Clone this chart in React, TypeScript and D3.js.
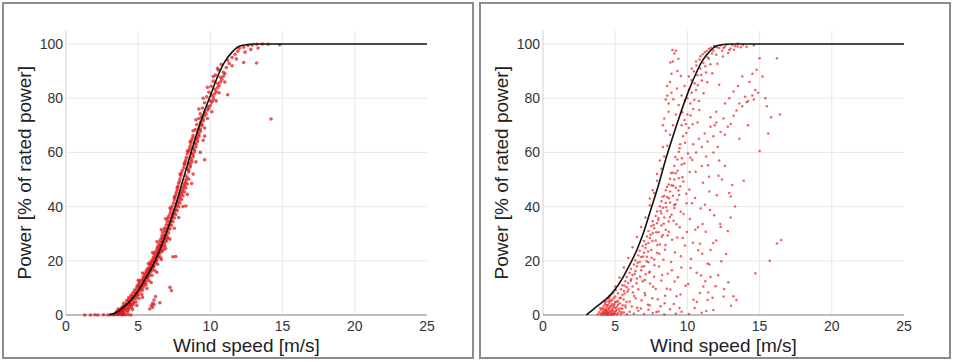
import React from 'react';
import * as d3 from 'd3';

// power curve (manufacturer), same shape in both panels
const curveSpeed = [3, 3.5, 4, 4.5, 5, 5.5, 6, 6.5, 7, 7.5, 8, 8.5, 9, 9.5, 10, 10.5, 11, 11.5, 12, 12.5, 13, 25];
const curvePowerLeft = [0, 1, 3, 5.5, 9, 13.5, 18, 24, 31, 39, 48, 57, 66, 74, 81, 88, 93.5, 97, 99.2, 99.7, 100, 100];
const curvePowerRight = [0, 2.2, 4.3, 6.5, 9.5, 13.5, 18.5, 24, 31, 39.5, 48, 57.5, 66, 74, 81.5, 88, 93.5, 97, 99.3, 99.8, 100, 100];

const xTicks = [0, 5, 10, 15, 20, 25];
const yTicks = [0, 20, 40, 60, 80, 100];

// left panel: measured points [wind speed, power %]
const leftZero: [number, number][] = [[1.3,0],[1.7,0],[2.0,0.1],[2.2,0],[2.6,0.1],[2.9,0],[3.1,0.2],[3.3,0],[3.4,0.3],[3.6,0.1],[3.7,0.5],[3.8,0.2],[3.9,0],[4.0,0.4],[4.1,0.1],[4.3,0.2],[4.5,0]];
const leftBand: [number, number][] = [
  [3.5,1.2],[3.7,1.6],[3.9,1.1],[4.0,2.0],[4.1,1.5],[4.2,2.6],[3.8,2.4],[4.3,1.8],[4.4,3.1],[4.0,3.3],
  [4.2,4.0],[4.4,4.5],[4.5,3.8],[4.6,5.2],[4.3,5.6],[4.7,4.6],[4.5,6.3],[4.8,5.9],[4.9,6.8],[4.6,7.2],
  [4.8,8.0],[5.0,7.4],[5.1,8.6],[4.9,9.5],[5.2,9.9],[5.0,10.6],[5.3,9.1],[5.4,11.2],[5.1,11.8],[5.3,12.5],
  [5.5,12.0],[5.4,13.6],[5.6,13.0],[5.5,14.6],[5.7,14.2],[5.6,15.5],[5.8,15.0],[5.7,16.4],[5.9,16.1],[5.8,17.3],
  [6.0,17.0],[5.9,18.5],[6.1,18.1],[6.0,19.6],[6.2,19.2],[6.1,20.7],[6.3,20.3],[6.2,21.8],[6.4,21.4],[6.3,22.9],
  [6.5,23.0],[6.4,24.3],[6.6,24.0],[6.5,25.5],[6.7,25.2],[6.6,26.8],[6.8,26.5],[6.7,28.0],[6.9,27.8],[6.8,29.3],[7.0,29.0],[6.9,30.6],[7.1,30.3],
  [7.0,31.9],[7.2,31.7],[7.1,33.2],[7.3,33.0],[7.2,34.5],[7.4,34.4],[7.3,35.9],[7.5,35.8],[7.4,37.3],[7.6,37.1],[7.5,38.6],[7.7,38.5],[7.6,40.0],[7.8,39.9],
  [7.7,41.4],[7.9,41.3],[7.8,42.8],[8.0,42.6],[7.9,44.2],[8.1,44.0],[8.0,45.6],[8.2,45.4],[8.1,47.0],[8.3,46.9],[8.2,48.4],[8.4,48.3],[8.3,49.8],[8.5,50.1],
  [8.3,51.5],[8.5,52.8],[8.4,54.0],[8.6,54.6],[8.5,56.0],[8.7,56.4],[8.6,58.0],[8.8,58.3],[8.7,59.7],[8.9,60.2],
  [8.8,61.6],[9.0,62.1],[8.9,63.5],[9.1,64.0],[9.0,65.4],[9.2,65.9],[9.1,67.3],[9.3,67.7],[9.2,69.0],[9.4,69.8],
  [9.3,71.0],[9.5,71.6],[9.4,73.0],[9.6,73.5],[9.6,75.0],[9.8,75.6],[9.8,77.0],[10.0,77.3],[10.0,79.0],[10.2,79.4],
  [10.1,81.2],[10.3,81.6],[10.3,83.3],[10.5,83.9],[10.5,85.5],[10.7,86.0],[10.7,87.7],[10.9,88.1],[10.9,89.6],
  [11.1,91.3],[11.3,92.8],[11.2,94.0],[11.5,95.0],[11.7,96.2],[11.9,97.3],[12.0,98.4],[12.3,98.8],[12.6,99.5],[12.9,99.6],[13.2,99.9],[13.6,100],[14.0,99.9],[14.8,99.7]
];
const leftCore: [number, number][] = [
  [3.6,0.8],[3.9,1.4],[4.1,2.8],[4.3,3.6],[4.4,5.0],[4.6,6.0],[4.8,7.1],[4.9,8.3],[5.1,9.4],[5.2,10.8],[5.3,11.4],[5.4,12.9],[5.6,14.0],[5.7,15.2],[5.8,16.3],
  [5.9,17.6],[6.0,18.8],[6.1,19.8],[6.2,20.9],[6.3,21.9],[6.4,23.2],[6.5,24.6],[6.6,25.7],[6.7,27.1],[6.8,28.3],[6.9,29.6],[7.0,30.9],[7.1,32.1],[7.2,33.6],
  [7.3,34.9],[7.4,36.4],[7.5,37.7],[7.6,39.0],[7.7,40.6],[7.8,41.9],[7.9,43.4],[8.0,44.8],[8.1,46.2],[8.2,47.6],[8.3,49.0],[8.4,50.6],[8.5,53.5],[8.6,55.3],
  [8.7,57.2],[8.8,59.1],[8.9,61.0],[9.0,63.0],[9.1,64.8],[9.2,66.6],[9.3,68.4],[9.4,70.4],[9.5,72.3],[9.7,74.2],[9.9,76.3],[10.1,78.5],[10.2,80.4],[10.4,82.5],
  [10.6,84.7],[10.8,86.9],[11.0,89.0]
];
const leftInner: [number, number][] = [
  [3.6,2.2],[4.0,4.3],[4.35,6.4],[4.65,8.3],[4.9,10.4],[5.1,12.5],[5.35,14.2],[5.55,16.3],[5.8,18.4],[5.95,20.3],[6.1,22.5],[6.3,24.4],[6.45,26.2],[6.6,28.3],
  [6.7,30.4],[6.85,32.2],[7.0,34.5],[7.1,36.3],[7.25,38.4],[7.35,40.2],[7.5,42.5],[7.6,44.4],[7.7,46.2],[7.8,48.5],[7.9,50.3],[8.0,52.4],[8.15,54.3],[8.25,56.5],
  [8.35,58.2],[8.5,60.4],[8.6,62.3],[8.7,64.5],[8.8,66.2],[8.95,68.4],[9.05,70.3],[9.2,72.5],[9.3,74.2],[9.45,76.4],[9.6,78.3],[9.75,80.5],[9.9,82.2],[10.05,84.4],
  [10.2,86.3],[10.35,88.5],[10.55,90.4],[10.75,92.5],
  [3.5,1.0],[3.9,3.0],[4.2,5.2],[4.5,7.4],[4.75,9.2],[5.0,11.3],[5.25,13.1],[5.45,15.3],[5.65,17.2],[5.85,19.5],[6.05,21.3],[6.2,23.4],[6.35,25.3],[6.5,27.4],
  [6.65,29.3],[6.8,31.4],[6.95,33.3],[7.05,35.5],[7.2,37.3],[7.3,39.4],[7.45,41.3],[7.55,43.5],[7.65,45.3],[7.75,47.4],[7.85,49.3],[7.95,51.5],[8.05,53.3],
  [8.2,55.4],[8.3,57.3],[8.4,59.5],[8.55,61.3],[8.65,63.4],[8.75,65.3]
];
const leftLow: [number, number][] = [
  [3.45,0.6],[3.55,0.3],[3.75,0.9],[3.85,1.9],[3.95,0.6],[4.05,2.4],[4.15,3.6],[4.25,1.2],[4.35,2.3],[4.45,4.1],[4.55,2.8],[4.65,3.9],[4.75,6.6],[4.85,4.8],
  [4.95,7.7],[5.05,6.1],[5.15,10.2],[5.25,7.6],[5.35,10.3],[5.45,12.4],[5.55,11.1],[5.65,13.8],[5.75,12.6],[5.85,16.9],[5.95,14.6],[6.05,17.8],[6.15,16.4],
  [6.25,19.9],[6.35,18.7],[6.45,22.1],[6.55,21.2],[6.65,23.4],[6.75,24.1],[6.85,25.6],[6.95,27.2],[7.05,28.3]
];
const leftFringe: [number, number][] = [
  [4.6,2.0],[4.9,3.5],[5.3,6.5],[5.0,12.8],[5.6,9.8],[5.9,12.0],[5.3,15.5],[6.3,15.8],[5.7,19.0],[6.6,20.5],[6.0,23.0],[6.9,24.5],[6.3,27.0],[7.2,28.0],
  [6.6,31.5],[7.5,32.0],[6.9,35.5],[7.8,36.0],[7.2,39.5],[8.1,40.0],[7.5,43.5],[8.4,44.5],[7.7,47.0],[8.7,48.5],[7.9,52.0],[8.8,52.0],[8.2,56.0],[9.0,56.5],
  [8.4,60.5],[9.3,60.0],[8.6,64.0],[9.5,64.5],[8.8,68.0],[9.6,69.0],[9.0,72.0],[9.8,72.5],[9.2,76.0],[10.1,75.0],[9.5,80.0],[10.4,79.0],[9.8,84.0],[10.6,82.0],
  [10.2,88.0],[11.0,86.0],[10.5,91.0],[11.5,92.0],[11.8,94.5],[12.4,97.0],[12.8,98.0],[13.3,98.5]
];
const leftOutliers: [number, number][] = [
  [5.8,2.2],[5.9,3.4],[6.0,4.3],[6.1,5.5],[6.2,6.8],[6.0,2.8],[6.1,3.9],[6.5,4.5],[7.2,10.2],[7.3,9.0],[7.4,21.5],[7.6,21.6],
  [8.3,40.2],[9.6,57.3],[9.6,66.0],[11.2,81.3],[14.2,72.3],[13.2,93.0],[12.3,93.2]
];

// right panel: measured points [wind speed, power %]
const rightCluster: [number, number][] = [
  [3.8,0.3],[3.9,1.0],[4.0,0.2],[4.0,1.8],[4.1,0.6],[4.1,2.5],[4.2,0.1],[4.2,1.4],[4.2,3.2],[4.3,0.8],[4.3,2.1],[4.3,4.0],[4.4,0.3],[4.4,1.2],[4.4,2.9],[4.4,5.0],
  [4.5,0.5],[4.5,1.8],[4.5,3.6],[4.5,0.1],[4.6,0.9],[4.6,2.4],[4.6,4.4],[4.6,6.0],[4.7,0.2],[4.7,1.5],[4.7,3.1],[4.7,5.3],[4.8,0.7],[4.8,2.2],[4.8,4.0],
  [4.9,0.3],[4.9,1.3],[4.9,3.5],[4.9,6.3],[5.0,0.8],[5.0,2.7],[5.0,4.8],[5.1,0.2],[5.1,1.9],[5.2,3.8],[5.2,0.6],[5.3,1.4],[5.4,0.4],[5.5,2.3],[5.6,0.9],
  [5.8,0.3],[6.0,1.2],[6.3,0.5],[6.6,1.6],[7.0,0.4],[7.3,1.9],[7.6,0.7],[8.0,1.3],[8.4,0.2],[8.8,2.1],[9.2,0.5],[9.6,1.2],[10.1,0.4],[10.5,2.6],[11.0,0.8],[11.3,1.5],
  [4.05,0.4],[4.15,1.1],[4.25,0.7],[4.35,1.9],[4.45,0.9],[4.55,2.6],[4.62,1.2],[4.68,3.4],[4.75,0.5],[4.82,1.7],[4.88,2.9],[4.95,4.1],[5.05,1.5],[5.12,3.0],
  [5.18,5.2],[5.25,2.2],[5.32,4.3],[5.38,6.4],[5.45,1.0],[5.52,3.6],[5.58,5.7],[5.65,7.9],[5.72,2.8],[5.78,4.9],[5.85,8.6],[4.32,0.2],[4.52,0.3],[4.72,0.1],
  [4.92,0.4],[4.42,3.7],[4.58,5.1],[4.38,1.4],[4.18,2.1],[3.95,2.6],[4.28,4.7],[4.48,6.2],[4.66,7.3],[4.85,8.0],[5.02,9.1]
];
const rightBand: [number, number][] = [
  [4.8,5.5],[5.0,6.8],[5.1,4.8],[5.2,8.0],[5.3,6.2],[5.4,9.5],[5.5,7.4],[5.5,11.0],[5.6,8.9],[5.7,12.5],[5.8,10.2],[5.8,14.0],[5.9,11.8],[6.0,15.6],[6.1,13.2],
  [6.1,17.0],[6.2,14.8],[6.3,18.6],[6.4,16.2],[6.4,20.2],[6.5,18.0],[6.6,22.0],[6.7,19.6],[6.7,23.7],[6.8,21.4],[6.9,25.5],[7.0,23.0],[7.0,27.3],[7.1,24.8],
  [7.2,29.0],[7.3,26.6],[7.3,31.0],[7.4,28.4],[7.5,32.8],[7.6,30.2],[7.6,34.6],[7.7,32.0],[7.8,36.5],[7.9,33.9],[7.9,38.2],[8.0,35.8],[8.1,40.1],[8.2,37.5],
  [8.2,42.0],[8.3,39.6],[8.4,44.0],[8.5,41.3],[8.5,46.0],[8.6,43.5],[8.7,48.2],[8.8,45.6],[8.8,50.3],[8.9,47.9],[9.0,52.5],[9.1,50.0],[9.1,55.0],[9.2,52.3],
  [9.3,57.4],[9.4,60.2],[9.5,63.0],
  [7.0,18.0],[7.2,21.5],[7.4,16.0],[7.5,24.0],[7.7,20.5],[7.8,27.5],[7.9,23.0],[8.0,30.5],[8.1,26.0],[8.2,33.0],[8.3,29.5],[8.4,36.0],[8.5,31.5],[8.6,38.5],
  [8.7,34.5],[8.8,41.5],[8.9,37.0],[9.0,44.0],[9.1,39.5],[9.2,47.0],[9.3,42.5],[9.4,50.5],[9.5,47.5],[9.6,55.5],[6.6,9.5],[6.9,12.5],[7.1,15.0],[6.3,7.0],
  [6.0,5.0],[5.7,3.5],[6.2,10.5],[6.5,13.5],[6.8,16.5],[7.3,19.5],[5.4,2.5],
  [5.65,10.8],[5.92,9.4],[6.08,12.6],[6.22,8.3],[6.35,15.1],[6.48,11.7],[6.55,19.3],[6.72,14.2],[6.85,17.8],[6.93,21.6],[7.05,12.9],[7.12,26.1],[7.18,19.8],
  [7.28,23.4],[7.36,15.7],[7.44,29.6],[7.52,21.1],[7.58,27.3],[7.66,33.2],[7.72,18.4],[7.84,30.5],[7.92,25.8],[7.98,35.1],[8.06,22.6],[8.14,38.4],[8.22,28.9],
  [8.28,43.6],[8.36,33.7],[8.45,24.1],[8.52,39.8],[8.58,47.2],[8.64,29.3],[8.72,43.1],[8.78,36.2],[8.86,52.4],[8.94,27.8],[9.02,47.7],[9.08,40.6],[9.16,58.3],
  [9.24,33.5],[9.32,53.2],[9.38,45.9],[9.46,61.5],[9.54,38.1],[9.62,57.8],[9.72,49.3],[9.84,63.6],[9.92,44.7],[10.04,59.6],[10.16,52.8]
];
const rightOnCurve: [number, number][] = [
  [4.6,6.8],[5.0,10.5],[5.3,13.8],[5.6,17.5],[5.9,21.0],[6.2,25.0],[6.5,28.8],[6.8,32.5],[7.1,36.0],[7.4,40.5],[7.7,45.0],[7.9,49.5],[8.2,54.0],[8.4,58.5],
  [8.6,62.5],[8.8,66.5],[9.0,70.0],[9.2,74.0],[9.4,77.5],[9.6,81.0],[9.8,84.5],[10.1,88.0],[10.3,91.0],[10.6,93.5],[10.9,95.5],[11.2,97.0],[11.5,98.2],
  [11.9,99.0],[12.3,99.5],[12.7,99.8],[13.1,99.6],[13.5,100.2],[12.5,98.5],[13.0,98.3],[7.6,46.0],[7.9,52.0],[8.1,57.0],[8.3,62.0],[7.4,43.0],
  [9.7,66.0],[9.9,70.5],[10.0,74.0],[10.2,78.0],[10.3,82.0],[10.5,85.5],[10.7,88.5],[10.9,91.0],[11.1,93.0],[11.4,95.0],[11.7,96.5],[10.0,80.0],[10.4,76.0],
  [10.6,83.0],[10.8,79.0],[11.0,86.5],[11.3,89.5],[9.8,72.0],[10.1,69.0],[9.6,70.0],[11.6,92.5],[12.0,96.0],[12.4,97.5],
  [8.4,72.5],[8.5,79.5],[8.6,81.0],[8.7,78.0],[8.6,84.5],[8.8,86.0],[8.9,89.0],[9.0,93.5],[9.1,96.5],[9.2,97.5],[8.9,82.0],[8.5,68.0],[8.3,70.0],[9.3,90.0],[8.7,75.0],
  [9.65,74.8],[9.82,79.2],[10.12,83.4],[10.28,86.7],[10.45,89.9],[10.62,92.1],[10.84,94.3],[11.06,96.2],[11.34,97.4],[11.62,98.6],[10.22,73.6],[10.48,79.4],
  [10.72,84.8],[10.96,88.6],[11.24,91.8],[11.48,94.6],[9.92,67.2],[10.36,70.4],[10.82,75.6],[11.12,81.8],[11.38,85.9],[11.72,89.2],[12.08,92.7],[12.46,95.4],
  [9.28,83.6],[9.02,79.6],[8.82,93.2],[8.96,97.8],[9.38,94.6],[9.55,88.2],[12.82,96.7],[13.22,97.9],[13.48,99.1],[13.85,99.6],[12.05,98.8],[11.85,99.4]
];
const rightScatter: [number, number][] = [
  [6.52,2.7],[6.83,5.4],[7.04,8.1],[7.26,3.8],[7.41,11.6],[7.57,6.2],[7.69,14.1],[7.81,9.6],[8.03,17.9],[8.14,3.2],[8.19,12.7],[8.34,20.4],[8.46,7.1],[8.48,25.8],
  [8.63,15.2],[8.71,30.7],[8.82,9.4],[8.87,19.6],[9.04,34.8],[9.06,4.1],[9.13,23.1],[9.18,40.9],[9.34,13.9],[9.29,28.6],[9.43,44.3],[9.52,7.6],[9.47,32.4],
  [9.66,50.8],[9.58,17.5],[9.74,37.3],[9.83,25.6],[9.78,55.9],[9.94,41.2],[10.06,11.4],[9.97,30.6],[10.13,46.3],[10.24,20.7],[10.17,35.4],[10.34,57.2],[10.42,5.6],
  [10.38,26.7],[10.53,43.2],[10.64,15.6],[10.57,52.9],[10.73,32.4],[10.86,8.1],[10.92,39.3],[11.03,22.6],[11.08,48.8],[11.24,12.5],[11.27,30.7],[11.42,55.3],
  [11.53,18.6],[11.57,38.7],[11.74,6.4],[11.79,26.6],[12.04,44.2],[12.13,14.7],[12.27,33.6],[12.54,9.6],[12.68,22.5],[13.02,3.4],[13.18,6.9],[12.83,12.1],
  [6.15,3.1],[6.42,6.2],[6.78,2.4],[7.08,7.3],[7.38,3.6],[7.62,10.4],[7.95,5.8],[8.25,14.8],[8.58,9.7],[8.92,16.5],[9.25,6.9],[9.55,21.7],[9.88,10.8],[10.22,17.3],
  [10.55,31.5],[10.88,26.3],[11.22,40.7],[11.52,45.6],[11.85,36.8],[12.15,51.4],[9.68,28.4],[10.32,41.2],[10.75,23.9],[11.05,33.6],[9.12,12.4],[8.42,4.3],
  [7.85,1.1],[9.45,2.6],[10.65,4.8],[11.45,8.3],[10.95,14.6],[12.35,19.8],[11.95,10.6]
];
const rightSecondBand: [number, number][] = [
  [10.2,58.0],[10.4,63.0],[10.6,60.0],[10.8,65.0],[11.0,62.0],[11.2,67.0],[11.4,64.0],[11.6,69.5],[11.8,66.0],[12.0,71.0],[12.1,62.0],[12.3,67.5],[12.5,72.5],
  [12.6,66.5],[12.8,69.5],[13.0,70.5],[13.2,73.5],[13.4,75.5],[13.6,78.0],[13.8,77.0],[14.0,80.5],[14.2,79.0],[14.5,81.0],[14.7,83.0],[14.6,79.5],[14.9,82.0],
  [11.6,73.0],[11.9,70.0],[10.7,71.0],[11.0,55.0],[11.3,58.5],[11.5,51.0],[11.8,60.0],[12.2,57.0],[12.4,50.0],[12.6,55.0],[12.9,45.0],[13.1,48.0],[13.0,36.0],
  [13.3,40.0],[12.8,31.0],[12.3,32.5],[12.0,27.5],[11.6,24.0],[11.4,19.0],[11.6,14.0],[11.1,10.5],[11.4,5.5],[11.8,1.8],[12.5,6.8],[13.4,5.5]
];
const rightSparse: [number, number][] = [
  [13.5,84.5],[14.3,86.0],[14.5,89.0],[15.0,94.7],[16.2,94.7],[15.5,77.0],[16.4,74.0],[15.6,67.0],[15.0,60.5],[13.9,49.5],[13.0,43.7],[16.2,26.4],[16.5,27.7],
  [15.7,20.0],[14.7,15.4],[15.8,73.0],[14.1,78.5],[13.2,82.5],[12.9,80.0],[12.6,78.0],[15.2,88.0],[14.8,90.5],[13.8,88.0],[12.2,85.0],[12.0,75.0],[13.6,65.0],
  [14.2,70.0],[15.4,80.0],[12.2,98.5],[12.6,99.0],[12.9,97.8],[13.3,99.2],[13.7,98.8],[14.1,99.0],[14.6,99.5],[11.8,97.5]
];

const leftPoints = [...leftZero, ...leftFringe, ...leftBand, ...leftCore, ...leftInner, ...leftLow, ...leftOutliers];
const rightPoints = [...rightCluster, ...rightScatter, ...rightSecondBand, ...rightSparse, ...rightBand, ...rightOnCurve];

const FONT = '"Liberation Sans", Arial, sans-serif';

type PanelProps = {
  left: number;
  points: [number, number][];
  curve: number[];
  dense: boolean;
};

const Panel = ({ left, points, curve, dense }: PanelProps) => {
  const x = d3.scaleLinear().domain([0, 25]).range([left + 66, left + 427]);
  const y = d3.scaleLinear().domain([0, 100]).range([315, 44]);
  const top = y(105);

  const line = d3.line<number>()
    .x((_, i) => x(curveSpeed[i]))
    .y(d => y(d))
    .curve(d3.curveMonotoneX);

  return (
    <g>
      <rect x={left + 3} y={3} width={470} height={355} fill="#fff" stroke="#8c8c8c" strokeWidth={2} />
      {yTicks.filter(t => t > 0).map(t => (
        <line key={'gy' + t} x1={x(0)} x2={x(25)} y1={y(t)} y2={y(t)} stroke="#e8e8e8" />
      ))}
      {xTicks.filter(t => t > 0 && t < 25).map(t => (
        <line key={'gx' + t} x1={x(t)} x2={x(t)} y1={y(0)} y2={top} stroke="#e8e8e8" />
      ))}
      <line x1={x(0)} x2={x(0)} y1={y(0)} y2={top} stroke="#d0d0d0" />
      <line x1={x(0)} x2={x(25)} y1={y(0)} y2={y(0)} stroke="#a8a8a8" strokeWidth={1.5} />
      {points.map((d, i) => (
        <circle key={i} cx={x(d[0])} cy={y(d[1])} r={dense ? 1.8 : 1.25}
          fill={dense ? '#dd1010' : '#ec2020'} fillOpacity={dense ? 0.7 : 0.7} />
      ))}
      <path d={line(curve) || ''} fill="none" stroke="#111" strokeWidth={1.6} />
      {yTicks.map(t => (
        <text key={'ty' + t} x={x(0) - 3} y={y(t) + 5} textAnchor="end" fontSize={14} fill="#333" fontFamily={FONT}>{t}</text>
      ))}
      {xTicks.map(t => (
        <text key={'tx' + t} x={x(t)} y={331} textAnchor="middle" fontSize={14} fill="#333" fontFamily={FONT}>{t}</text>
      ))}
      <text x={(x(0) + x(25)) / 2} y={352} textAnchor="middle" fontSize={19} fill="#222" fontFamily={FONT}>Wind speed [m/s]</text>
      <text transform={`translate(${left + 31},${(y(0) + top) / 2}) rotate(-90)`} textAnchor="middle" fontSize={19} fill="#222" fontFamily={FONT}>
        Power [% of rated power]
      </text>
    </g>
  );
};

export default function App() {
  return (
    <svg width={954} height={362} style={{ position: 'absolute', left: 0, top: 0, background: '#fff' }}>
      <Panel left={0} points={leftPoints} curve={curvePowerLeft} dense={true} />
      <Panel left={477} points={rightPoints} curve={curvePowerRight} dense={false} />
    </svg>
  );
}
